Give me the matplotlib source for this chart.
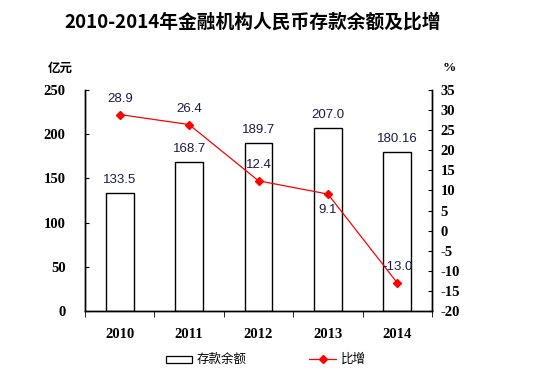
import matplotlib
matplotlib.use("Agg")
import matplotlib.pyplot as plt
import numpy as np

plt.rcParams['font.family'] = ['Noto Sans CJK SC', 'DejaVu Sans']
plt.rcParams['axes.unicode_minus'] = False

# dados
anos = ["2010", "2011", "2012", "2013", "2014"]
saldo = [133.5, 168.7, 189.7, 207.0, 180.16]
saldo_txt = ["133.5", "168.7", "189.7", "207.0", "180.16"]
crescimento = [28.9, 26.4, 12.4, 9.1, -13.0]
cresc_txt = ["28.9", "26.4", "12.4", "9.1", "-13.0"]
# posição do rótulo da linha: acima (1) ou abaixo (-1)
cresc_lado = [1, 1, 1, -1, 1]

fig = plt.figure(figsize=(5.46, 3.77), dpi=100)
ax = fig.add_axes([85 / 546, 1 - 311 / 377, 347 / 546, 221 / 377])
x = np.arange(len(anos))

ax.bar(x, saldo, width=0.4, color="white", edgecolor="black", linewidth=1.0, zorder=2)
ax.set_xlim(-0.5, len(anos) - 0.5)
ax.set_ylim(0, 250)
ax.set_yticks(np.arange(0, 251, 50))
for xi, v, t in zip(x, saldo, saldo_txt):
    ax.annotate(t, (xi, v), xytext=(0, 5), textcoords="offset points", ha="center", va="bottom",
                fontsize=9.5, family="Liberation Sans", color="#1a1a4a")

ax2 = ax.twinx()
ax2.set_ylim(-20, 35)
ax2.set_yticks(np.arange(-20, 36, 5))
ax2.plot(x, crescimento, color="red", linewidth=0.9, marker="D", markersize=4, zorder=3)
for xi, v, t, lado in zip(x, crescimento, cresc_txt, cresc_lado):
    ax2.annotate(t, (xi, v), xytext=(0, 7 * lado), textcoords="offset points", ha="center",
                 va="bottom" if lado > 0 else "top", fontsize=9.5, family="Liberation Sans", color="#1a1a4a")

# eixos
ax.set_xticks(x)
ax.set_xticklabels(anos)
ax.set_xticks(np.arange(-0.5, len(anos), 1), minor=True)
ax.tick_params(axis="x", which="major", length=0, pad=12)
ax.tick_params(axis="x", which="minor", length=4, direction="out")
ax.tick_params(axis="y", length=3, direction="in", pad=14)
ax2.tick_params(axis="y", length=3, direction="in", pad=6)
for a in (ax, ax2):
    a.spines["top"].set_visible(False)
    for s in a.spines.values():
        s.set_linewidth(1.0)
for lbl in ax.get_xticklabels() + ax.get_yticklabels() + ax2.get_yticklabels():
    lbl.set_family("Liberation Serif")
    lbl.set_fontweight("bold")
    lbl.set_fontsize(10.5)

fig.text(253 / 546, 1 - 22 / 377, "2010-2014年金融机构人民币存款余额及比增", ha="center", va="center",
         fontsize=13.5, fontweight="bold")
fig.text(60 / 546, 1 - 68 / 377, "亿元", ha="center", va="center", fontsize=9, fontweight="bold")
fig.text(449 / 546, 1 - 68 / 377, "%", ha="center", va="center", fontsize=9.5, fontweight="bold",
         family="Liberation Serif")

# legenda
fig.patches.append(plt.Rectangle((166 / 546, 1 - 363 / 377), 26 / 546, 7 / 377, transform=fig.transFigure,
                                 facecolor="white", edgecolor="black", linewidth=0.9))
fig.text(197 / 546, 1 - 359 / 377, "存款余额", ha="left", va="center", fontsize=9)
fig.lines.append(plt.Line2D([309 / 546, 336 / 546], [1 - 359 / 377, 1 - 359 / 377], transform=fig.transFigure,
                            color="red", linewidth=0.9))
fig.lines.append(plt.Line2D([322.5 / 546], [1 - 359 / 377], transform=fig.transFigure,
                            color="red", marker="D", markersize=4))
fig.text(341 / 546, 1 - 359 / 377, "比增", ha="left", va="center", fontsize=9)

fig.savefig("out.png", dpi=100)
